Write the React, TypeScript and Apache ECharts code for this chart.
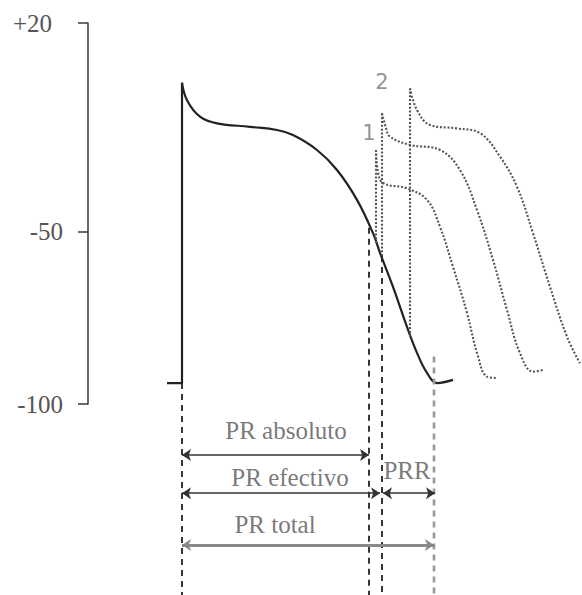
import React, { useEffect, useRef } from "react";
import * as echarts from "echarts";

// ---- Data (x in ms-like units, y in mV axis units) ----
const yTickValues = [20, -45.8, -100];
const yTickLabels = ["+20", "-50", "-100"];

const restingAndUpstroke: [number, number][] = [
  [79, -93.4],
  [94, -93.4],
  [94, 1.2],
];
const apMain: [number, number][] = [
  [94, 1.2], [99, -4.3], [112, -9.5], [129, -11.6], [162, -12.7], [189, -13.7],
  [205, -15.3], [229, -20], [249, -26.3], [269, -35.7], [285, -46.2], [292, -52.4],
  [305, -63.1], [319, -75.7], [329, -83.9], [339, -90.2], [349, -93.4], [365, -92.4],
];

const stim1: [number, number][] = [[288, -49.3], [288, -20]];
const ap1: [number, number][] = [
  [288, -20], [290, -27], [295, -30.4], [319, -32.1], [339, -35.7], [352, -44.2],
  [365, -56.8], [379, -71.3], [389, -83.9], [399, -91.4], [409, -91.8],
];
const stim2: [number, number][] = [[294, -53.4], [294, -8.4]];
const ap2: [number, number][] = [
  [294, -8.4], [298, -13.1], [302, -15.8], [322, -18.4], [352, -20], [372, -26.3],
  [389, -38.9], [405, -54.6], [419, -70.4], [432, -84], [445, -89.8], [455, -89.3],
];
const stim3: [number, number][] = [[322, -78.8], [322, -0.6]];
const ap3: [number, number][] = [
  [322, -0.6], [329, -7.4], [342, -12.1], [369, -13.2], [392, -14.7], [412, -22.1],
  [429, -31.6], [445, -46.2], [462, -63.1], [479, -78.8], [492, -87.2],
];

const Y_BOTTOM = -160.5;
const darkDashX = [94, 281, 294];
const darkDashTop = [-93.4, -44.5, -53.4];
const grayDashX = [346];
const grayDashTop = [-85];

const arrowNames = ["absoluto", "efectivo", "PRR", "total"];
const arrowFrom = [94, 94, 295, 94];
const arrowTo = [281, 292, 347, 346];
const arrowY = [-116.1, -128.1, -128.1, -144.4];

const labelTexts = ["PR absoluto", "PR efectivo", "PRR", "PR total"];
const labelX = [198, 202, 319, 187];
const labelY = [-108.2, -123.3, -120.8, -138.1];

const curveTags = ["1", "2"];
const curveTagX = [281, 294];
const curveTagY = [-14.5, 1.4];

const SERIF = "Liberation Serif";

export default function App() {
  const ref = useRef<HTMLDivElement>(null);
  useEffect(() => {
    if (!ref.current) return;
    const chart = echarts.init(ref.current, undefined, { renderer: "svg" });

    const dotted = { color: "#555", width: 2.1, type: [2, 1.8] as number[] };
    const mkLine = (name: string, data: [number, number][], style: any, smooth: any) => ({
      name,
      type: "line",
      data,
      smooth,
      showSymbol: false,
      symbol: "none",
      clip: false,
      lineStyle: style,
      z: 3,
    });

    const series: any[] = [
      mkLine("upstroke", restingAndUpstroke, { color: "#222", width: 2.2 }, false),
      mkLine("ap", apMain, { color: "#222", width: 2.2 }, 0.4),
      mkLine("stim1", stim1, dotted, false),
      mkLine("ap1", ap1, dotted, 0.4),
      mkLine("stim2", stim2, dotted, false),
      mkLine("ap2", ap2, dotted, 0.4),
      mkLine("stim3", stim3, dotted, false),
      mkLine("ap3", ap3, dotted, 0.4),
    ];

    darkDashX.forEach((x, i) => {
      series.push(
        mkLine("dash" + i, [[x, darkDashTop[i]], [x, Y_BOTTOM]], { color: "#222", width: 1.8, type: [6, 5] }, false)
      );
    });
    grayDashX.forEach((x, i) => {
      series.push(
        mkLine("gdash" + i, [[x, grayDashTop[i]], [x, Y_BOTTOM]], { color: "#999", width: 2.6, type: [6, 5] }, false)
      );
    });

    series.push({
      name: "arrows",
      type: "lines",
      coordinateSystem: "cartesian2d",
      clip: false,
      symbol: ["arrow", "arrow"],
      symbolSize: 9,
      z: 4,
      data: arrowNames.map((n, i) => ({
        name: n,
        coords: [[arrowFrom[i], arrowY[i]], [arrowTo[i], arrowY[i]]],
        lineStyle:
          n === "total"
            ? { color: "#888", width: 3, opacity: 1 }
            : { color: "#333", width: 1.6, opacity: 1 },
      })),
    });

    series.push({
      name: "labels",
      type: "scatter",
      clip: false,
      symbolSize: 1,
      itemStyle: { color: "rgba(0,0,0,0)" },
      z: 5,
      label: {
        show: true,
        position: "inside",
        formatter: (p: any) => p.name,
        fontFamily: SERIF,
        fontSize: 25,
        color: "#555",
      },
      data: labelTexts.map((t, i) => ({ name: t, value: [labelX[i], labelY[i]] })),
    });

    series.push({
      name: "tags",
      type: "scatter",
      clip: false,
      symbolSize: 1,
      itemStyle: { color: "rgba(0,0,0,0)" },
      z: 5,
      label: {
        show: true,
        position: "inside",
        formatter: (p: any) => p.name,
        fontFamily: "DejaVu Sans",
        fontSize: 21,
        color: "#777",
      },
      data: curveTags.map((t, i) => ({ name: t, value: [curveTagX[i], curveTagY[i]] })),
    });

    chart.setOption({
      animation: false,
      textStyle: { fontFamily: SERIF },
      grid: { left: 88, right: 0, top: 23, height: 381, containLabel: false },
      xAxis: { type: "value", min: 0, max: 494, show: false },
      yAxis: {
        type: "value",
        min: -100,
        max: 20,
        axisLine: { show: true, lineStyle: { color: "#444", width: 1.6 } },
        axisTick: { show: true, customValues: yTickValues, length: 10, lineStyle: { color: "#444", width: 1.6 } },
        splitLine: { show: false },
        axisLabel: {
          customValues: yTickValues,
          margin: 25,
          fontFamily: SERIF,
          fontSize: 25,
          color: "#555",
          formatter: (v: number) => {
            let best = 0;
            yTickValues.forEach((t, i) => {
              if (Math.abs(t - v) < Math.abs(yTickValues[best] - v)) best = i;
            });
            return best === 0 ? "{p|" + yTickLabels[best] + "}" : yTickLabels[best];
          },
          rich: { p: { fontFamily: SERIF, fontSize: 25, color: "#555", padding: [0, 11, 0, 0] } },
        },
      },
      series,
    });
    return () => chart.dispose();
  }, []);
  return (
    <div
      ref={ref}
      style={{ position: "fixed", left: 0, top: 0, width: 582, height: 595, background: "#fff" }}
    />
  );
}
